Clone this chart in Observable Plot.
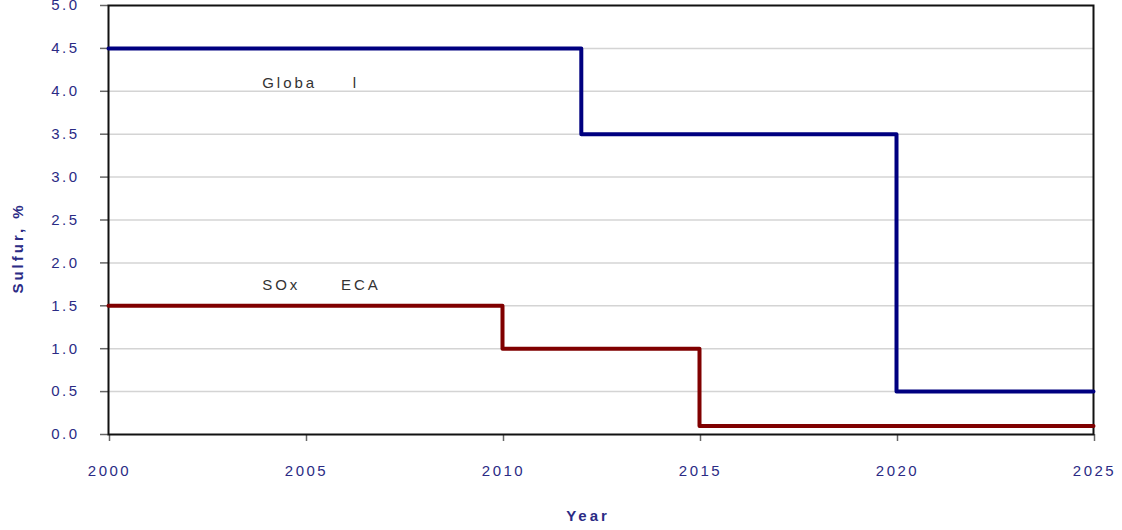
<!DOCTYPE html>
<html>
<head>
<meta charset="utf-8">
<script src="https://cdn.jsdelivr.net/npm/d3@7"></script>
<script src="https://cdn.jsdelivr.net/npm/@observablehq/plot@0.6"></script>
<style>
  html, body { margin: 0; padding: 0; background: #fff; }
  #chart svg { display: block; font-family: "Liberation Sans", Arial, sans-serif; }
  #chart svg [aria-label="y-axis tick label"] text,
  #chart svg [aria-label="x-axis tick label"] text { letter-spacing: 2.5px; }
  #chart svg .lbl text { letter-spacing: 3px; }
  #chart svg .axlbl text { letter-spacing: 3px; }
</style>
</head>
<body>
<div id="chart"></div>
<script>
// Sulfur limit steps (value applies from the given year onward)
const globalYears = [2000, 2012, 2020, 2025];
const globalSulfur = [4.5, 3.5, 0.5, 0.5];
const ecaYears = [2000, 2010, 2015, 2025];
const ecaSulfur = [1.5, 1.0, 0.1, 0.1];

const yTicks = [0, 0.5, 1, 1.5, 2, 2.5, 3, 3.5, 4, 4.5, 5];
const xTicks = [2000, 2005, 2010, 2015, 2020, 2025];

// Series annotation fragments (year, value, text)
const labelYears = [2003.9, 2006.2, 2003.9, 2005.9];
const labelValues = [4.1, 4.1, 1.74, 1.74];
const labelTexts = ["Globa", "l", "SOx", "ECA"];

const globalData = globalYears.map((y, i) => ({year: y, s: globalSulfur[i]}));
const ecaData = ecaYears.map((y, i) => ({year: y, s: ecaSulfur[i]}));
const labels = labelTexts.map((t, i) => ({year: labelYears[i], s: labelValues[i], t}));

const tickColor = "#2b2b85";

const chart = Plot.plot({
  width: 1122,
  height: 530,
  marginLeft: 108,
  marginRight: 29,
  marginTop: 5,
  marginBottom: 96,
  style: {background: "#fff", overflow: "visible"},
  x: {domain: [2000, 2025]},
  y: {domain: [0, 5]},
  marks: [
    Plot.gridY(yTicks.filter(d => d > 0 && d < 5), {stroke: "#d4d4d4", strokeOpacity: 1, strokeWidth: 1.5}),
    Plot.axisY(yTicks, {
      tickSize: 8, tickPadding: 21, stroke: "#666", strokeWidth: 1.5,
      tickFormat: d3.format(".1f"), fontSize: 15, fill: tickColor, label: null
    }),
    Plot.axisX(xTicks, {
      tickSize: 7, tickPadding: 24, stroke: "#666", strokeWidth: 1.5,
      tickFormat: d => String(d), fontSize: 15, fill: tickColor, label: null, dx: 1
    }),
    Plot.frame({stroke: "#111", strokeWidth: 2}),
    Plot.line(globalData, {x: "year", y: "s", curve: "step-after", stroke: "#000080", strokeWidth: 4}),
    Plot.line(ecaData, {x: "year", y: "s", curve: "step-after", stroke: "#800000", strokeWidth: 4}),
    Plot.text(labels, {x: "year", y: "s", text: "t", textAnchor: "start", fontSize: 15, fill: "#333", className: "lbl"}),
    Plot.text(["Sulfur, %"], {frameAnchor: "left", textAnchor: "middle", dx: -90, dy: 28, rotate: -90, fontSize: 15, fontWeight: "bold", fill: tickColor, className: "axlbl"}),
    Plot.text(["Year"], {frameAnchor: "bottom", textAnchor: "middle", dx: -13, dy: 86, fontSize: 15, fontWeight: "bold", fill: tickColor, className: "axlbl"})
  ]
});
document.getElementById("chart").appendChild(chart);
</script>
</body>
</html>
